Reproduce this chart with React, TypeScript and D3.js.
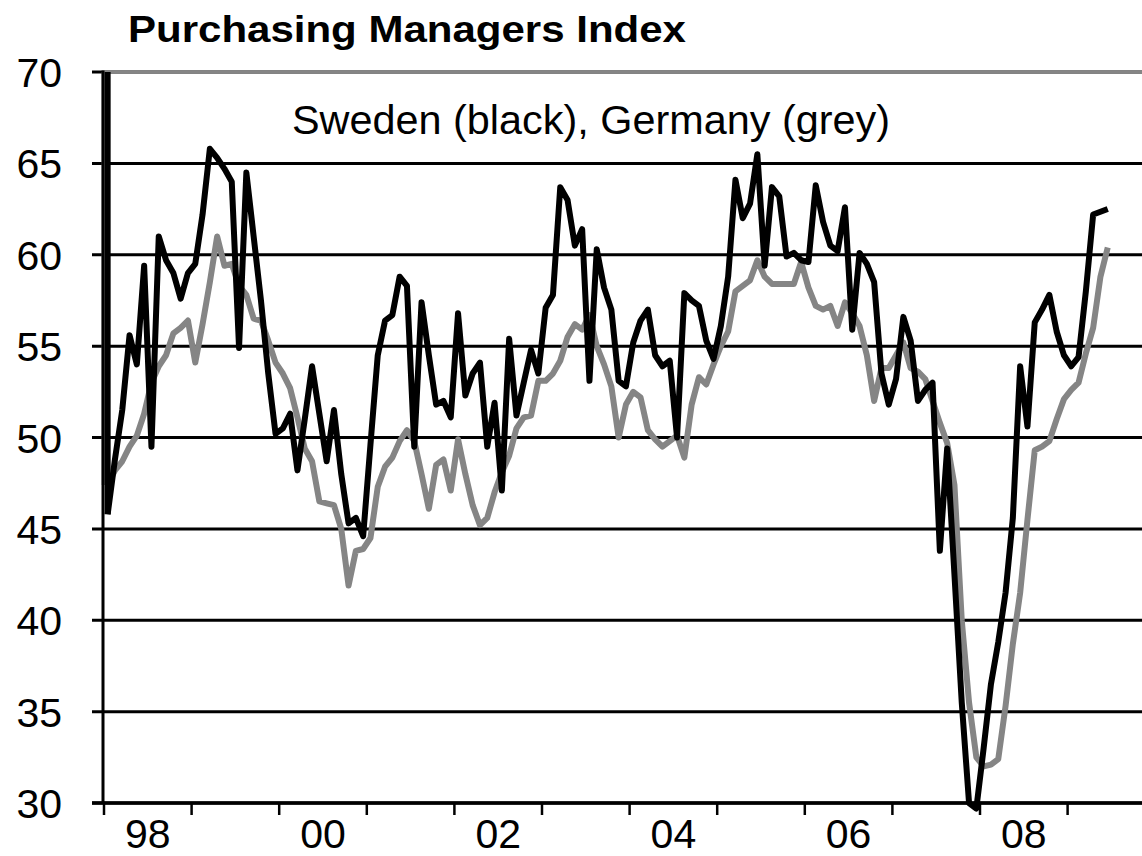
import React from "react";
import * as d3 from "d3";

// Monthly PMI values
const sweden = [
  45.8, 48.8, 51.5, 55.6, 54.0, 59.4, 49.5, 61.0, 59.7, 59.0, 57.6, 59.0,
  59.5, 62.2, 65.8, 65.3, 64.7, 64.0, 54.9, 64.5, 61.0, 57.5, 53.5, 50.2,
  50.5, 51.3, 48.2, 51.0, 53.9, 51.3, 48.7, 51.5, 48.0, 45.3, 45.6, 44.6,
  49.6, 54.5, 56.4, 56.7, 58.8, 58.3, 49.5, 57.4, 54.5, 51.8, 52.0, 51.1,
  56.8, 52.3, 53.5, 54.1, 49.5, 51.9, 47.1, 55.4, 51.2, 53.0, 54.8, 53.5,
  57.1, 57.8, 63.7, 63.0, 60.5, 61.4, 53.1, 60.3, 58.2, 57.0, 53.1, 52.8,
  55.2, 56.4, 57.0, 54.5, 53.9, 54.2, 50.0, 57.9, 57.5, 57.2, 55.3, 54.3,
  56.1, 58.8, 64.1, 62.0, 62.8, 65.5, 59.4, 63.7, 63.2, 59.9, 60.1, 59.7,
  59.6, 63.8, 61.8, 60.5, 60.2, 62.6, 55.9, 60.1, 59.5, 58.5, 53.5, 51.8,
  53.2, 56.6, 55.3, 52.0, 52.6, 53.0, 43.8, 49.4, 42.5, 35.5, 30.0, 29.7,
  33.0, 36.5, 38.8, 41.5, 45.6, 53.9, 50.6, 56.3, 57.0, 57.8, 55.8, 54.5,
  53.9, 54.4, 58.0, 62.2, 62.35, 62.5,
];

const germany = [
  47.4, 48.2, 48.7, 49.5, 50.1, 51.3, 53.0, 53.9, 54.5, 55.7, 56.0, 56.4,
  54.1, 56.2, 58.5, 61.0, 59.4, 59.5, 58.3, 57.8, 56.5, 56.4, 55.3, 54.1,
  53.5, 52.7, 51.1, 49.4, 48.7, 46.5, 46.4, 46.3, 45.0, 41.9, 43.8, 43.9,
  44.5, 47.3, 48.4, 48.9, 49.8, 50.4, 49.8, 48.0, 46.1, 48.5, 48.8, 47.1,
  49.9, 48.0, 46.3, 45.2, 45.6, 47.0, 48.1, 49.0, 50.5, 51.1, 51.2, 53.1,
  53.1, 53.5, 54.2, 55.5, 56.2, 55.9, 56.7, 55.0, 54.0, 52.8, 50.0, 51.8,
  52.5, 52.2, 50.4, 49.9, 49.5, 49.8, 50.1, 48.9, 51.8, 53.3, 52.9, 54.0,
  55.0, 55.8, 58.0, 58.3, 58.6, 59.7, 58.8, 58.4, 58.4, 58.4, 58.4, 59.6,
  58.2, 57.2, 57.0, 57.2, 56.1, 57.4, 56.8, 56.1, 54.5, 52.0, 53.8, 53.8,
  54.5, 55.2, 53.8, 53.6, 53.2, 52.0, 50.8, 49.7, 47.4, 40.0, 35.5, 32.5,
  32.0, 32.1, 32.4, 35.3, 38.7, 41.5, 45.5, 49.3, 49.5, 49.8, 51.0, 52.1,
  52.6, 53.0, 54.6, 56.0, 58.8, 60.4,
];

const yTicks = [30, 35, 40, 45, 50, 55, 60, 65, 70];
const yearLabels = ["98", "99", "00", "01", "02", "03", "04", "05", "06", "07", "08", "09"];
const shownYears = ["98", "00", "02", "04", "06", "08"];
const title = "Purchasing Managers Index";
const subtitle = "Sweden (black), Germany (grey)";

const FONT = "'Liberation Sans', Arial, Helvetica, sans-serif";

export default function App() {
  const W = 1142;
  const H = 856;
  const left = 103;
  const top = 72;
  const bottom = 803;
  const monthW = 7.3;
  const nMonths = yearLabels.length * 12;

  const x = d3.scaleLinear().domain([0, nMonths]).range([left + 1, left + 1 + nMonths * monthW]);
  const y = d3.scaleLinear().domain([30, 70]).range([bottom, top]);

  const line = d3
    .line<number>()
    .x((_, i) => x(i + 0.5))
    .y((d) => y(d));

  const leadIn = (first: number) =>
    d3.line<[number, number]>()
      .x((d) => x(d[0] + 0.5))
      .y((d) => y(d[1]))([
      [0, 70],
      [0, first],
    ]) as string;

  const grey = "#858585";

  return (
    <svg
      width={W}
      height={H}
      style={{ position: "absolute", left: 0, top: 0, background: "#fff" }}
      fontFamily={FONT}
    >
      {/* gridlines */}
      {yTicks.map((t) => (
        <line key={t} x1={92} x2={W} y1={y(t)} y2={y(t)} stroke="#000" strokeWidth={3} />
      ))}
      {/* plot area top border */}
      <line x1={left} x2={W} y1={y(70)} y2={y(70)} stroke={grey} strokeWidth={3.5} />

      {/* y tick labels */}
      {yTicks.map((t) => (
        <text
          key={"l" + t}
          x={62}
          y={y(t)}
          dy={15}
          textAnchor="end"
          fontSize={41}
          fill="#000"
        >
          {t}
        </text>
      ))}

      {/* x ticks */}
      {yearLabels.map((yr, k) => (
        <line
          key={"t" + yr}
          x1={x(k * 12)}
          x2={x(k * 12)}
          y1={bottom}
          y2={bottom + 12}
          stroke="#000"
          strokeWidth={2.5}
        />
      ))}
      {yearLabels.map((yr, k) =>
        shownYears.includes(yr) ? (
          <text
            key={"x" + yr}
            x={x(k * 12 + 6)}
            y={848}
            textAnchor="middle"
            fontSize={41}
            fill="#000"
          >
            {yr}
          </text>
        ) : null
      )}

      {/* series */}
      <path d={leadIn(germany[0])} fill="none" stroke={grey} strokeWidth={6} transform="translate(-3,0)" />
      <path d={line(germany) as string} fill="none" stroke={grey} strokeWidth={6} strokeLinejoin="round" />
      <path d={leadIn(sweden[0])} fill="none" stroke="#000" strokeWidth={6} />
      <path d={line(sweden) as string} fill="none" stroke="#000" strokeWidth={6} strokeLinejoin="round" />

      {/* axes */}
      <line x1={left} x2={left} y1={top - 1.5} y2={bottom} stroke="#000" strokeWidth={3} />
      <line x1={92} x2={W} y1={bottom} y2={bottom} stroke="#000" strokeWidth={3.5} />

      {/* texts */}
      <text x={128} y={42} fontSize={37} fontWeight="bold" fill="#000" textLength={558} lengthAdjust="spacingAndGlyphs">
        {title}
      </text>
      <text x={292} y={134} fontSize={40} fill="#000" textLength={598} lengthAdjust="spacingAndGlyphs">
        {subtitle}
      </text>
    </svg>
  );
}
